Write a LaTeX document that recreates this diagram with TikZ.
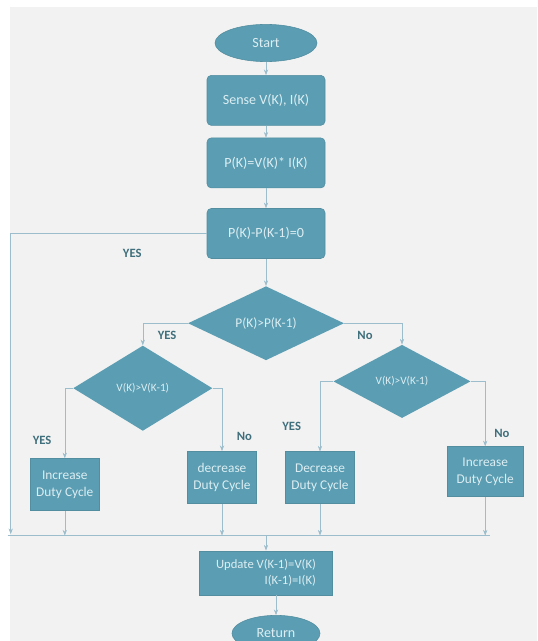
\documentclass[tikz,border=0pt]{standalone}
\usepackage{fontspec}
\setmainfont{Carlito}
\usetikzlibrary{shapes.geometric,arrows.meta,positioning,calc}
\definecolor{mpptFill}{HTML}{5B9DB2}
\definecolor{mpptText}{HTML}{DCEEF3}
\definecolor{mpptLine}{HTML}{9BBDCC}
\definecolor{mpptLabel}{HTML}{3F6F7C}
\definecolor{mpptBack}{HTML}{F2F2F2}

\begin{document}
\begin{tikzpicture}[
    font=\fontsize{10}{12}\selectfont,
    box/.style={draw=mpptFill!90!black, fill=mpptFill, text=mpptText, rectangle, rounded corners=3pt, minimum height=1.25cm, minimum width=2.95cm, align=center},
    duty/.style={box, rounded corners=0pt, minimum height=1.3cm, minimum width=1.73cm, font=\fontsize{9.5}{12}\selectfont},
    term/.style={ellipse, draw=mpptFill!90!black, fill=mpptFill, text=mpptText, minimum width=2.55cm, minimum height=0.93cm},
    decision/.style={diamond, fill=mpptFill, text=mpptText, inner sep=0pt, aspect=2},
    arrow/.style={-{Stealth[length=4pt]}, draw=mpptLine},
    line/.style={draw=mpptLine},
    lbl/.style={text=mpptLabel, font=\fontsize{9}{11}\selectfont\bfseries}
]
    % Fondo gris claro
    \useasboundingbox[fill=white] (0,0) rectangle (13.425,-16.025);
    \fill[mpptBack] (0.25,-0.175) rectangle (13.425,-16.025);

    \node[term] (start) at (6.65,-1.075) {Start};
    \node[box, below=0.33cm of start] (sense) {Sense V(K), I(K)};
    \node[box, below=0.3cm of sense] (power) {P(K)=V(K)* I(K)};
    \node[box, below=0.5cm of power] (diff) {P(K)-P(K-1)=0};

    \node[decision, minimum width=3.9cm, minimum height=1.85cm, below=0.68cm of diff, font=\fontsize{9.5}{11}\selectfont] (pgt) {P(K)>P(K-1)};
    \node[decision, minimum width=3.48cm, minimum height=2.13cm, below=-0.38cm of pgt, xshift=-3.08cm, font=\fontsize{8}{10}\selectfont] (vl) {V(K)>V(K-1)};
    \node[decision, minimum width=3.43cm, minimum height=1.83cm, below=-0.4cm of pgt, xshift=3.4cm, font=\fontsize{8}{10}\selectfont] (vr) {V(K)>V(K-1)};

    \node[duty, below=0.68cm of vl, xshift=-1.95cm] (incL) {Increase\\Duty Cycle};
    \node[duty, below=0.5cm of vl, xshift=1.98cm] (decL) {decrease\\Duty Cycle};
    \node[duty, below=0.83cm of vr, xshift=-2.05cm] (decR) {Decrease\\Duty Cycle};
    \node[duty, minimum width=1.9cm, minimum height=1.25cm, below=0.7cm of vr, xshift=2.08cm] (incR) {Increase\\Duty Cycle};

    \node[box, rounded corners=0pt, minimum width=3.33cm, minimum height=1.1cm, align=right, below=4.75cm of pgt, font=\fontsize{9}{11}\selectfont] (upd) {Update V(K-1)=V(K)\\I(K-1)=I(K)};
    \node[term, minimum width=2.2cm, minimum height=0.9cm, below=0.5cm of upd, xshift=0.25cm] (ret) {Return};

    \coordinate (mid) at ([yshift=0.375cm]upd.north);
    \coordinate (lx) at ([xshift=-4.9cm]diff.west);
    \coordinate (mL) at (lx |- mid);
    \coordinate (mR) at (mid -| incR.south);

    \draw[arrow] (start) -- (sense);
    \draw[arrow] (sense) -- (power);
    \draw[arrow] (power) -- (diff);
    \draw[arrow] (diff) -- (pgt);

    % Rama YES directa hasta la línea de retorno
    \draw[arrow] (diff.west) -| node[lbl, pos=0.19, below=8pt] {YES} ([yshift=1pt]mL);

    \draw[arrow] (pgt.west) -| node[lbl, pos=0.23, below=2pt] {YES} (vl.north);
    \draw[arrow] (pgt.east) -| node[lbl, pos=0.18, below=2pt] {No} (vr.north);
    \draw[arrow] (vl.west) -| node[lbl, pos=0.87, left=6pt] {YES} (incL.north);
    \draw[arrow] (vl.east) -| node[lbl, pos=0.88, right=7pt] {No} (decL.north);
    \draw[arrow] (vr.west) -| node[lbl, pos=0.82, left=10pt] {YES} (decR.north);
    \draw[arrow] (vr.east) -| node[lbl, pos=0.9, right=3pt] {No} (incR.north);

    \foreach \b in {incL,decL,decR,incR}
        \draw[arrow] (\b.south) -- (\b.south |- mid);
    \draw[line] ([xshift=-0.08cm]mL) -- ([xshift=0.12cm]mR);

    \draw[arrow] (mid) -- (upd);
    \draw[arrow] (upd.south -| ret.north) -- (ret);
\end{tikzpicture}
\end{document}
